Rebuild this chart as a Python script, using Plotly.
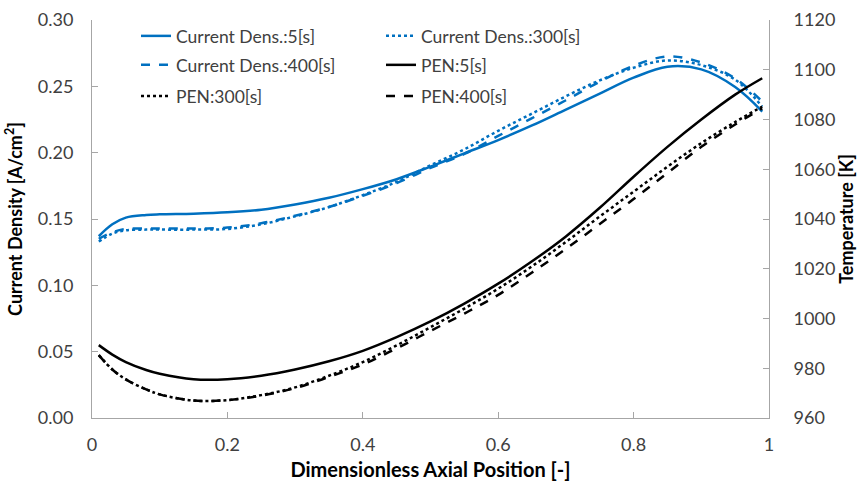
import plotly.graph_objects as go

x = [0.01, 0.03, 0.05, 0.08, 0.1, 0.15, 0.2, 0.25, 0.3, 0.35, 0.4, 0.45, 0.5,
     0.55, 0.6, 0.65, 0.7, 0.75, 0.8, 0.85, 0.9, 0.95, 0.99]

cd_5 = [0.137, 0.146, 0.151, 0.153, 0.1535, 0.154, 0.155, 0.157, 0.161, 0.166, 0.1725, 0.180, 0.1895,
        0.1995, 0.2095, 0.2205, 0.2325, 0.2445, 0.2565, 0.2648, 0.2628, 0.2495, 0.231]
cd_300 = [0.133, 0.139, 0.1415, 0.142, 0.142, 0.142, 0.1425, 0.146, 0.152, 0.159, 0.168, 0.178, 0.1905,
          0.2025, 0.2165, 0.2295, 0.2425, 0.2545, 0.264, 0.2695, 0.266, 0.255, 0.2347]
cd_400 = [0.135, 0.140, 0.1425, 0.1428, 0.1428, 0.1428, 0.1435, 0.1468, 0.1525, 0.159, 0.1675, 0.177, 0.1885,
          0.199, 0.2126, 0.226, 0.2395, 0.2535, 0.2655, 0.2725, 0.268, 0.256, 0.2385]

t_5 = [989.3, 985.5, 982.5, 979.3, 977.8, 975.6, 975.6, 977.0, 979.5, 982.8, 987.0, 992.5, 998.8,
       1006.0, 1014.0, 1023.0, 1033.0, 1044.5, 1057.0, 1069.0, 1080.0, 1090.0, 1096.6]
t_300 = [985.3, 979.5, 975.5, 971.5, 969.5, 967.0, 967.2, 969.2, 972.3, 977.0, 982.5, 989.2, 996.5,
         1004.0, 1012.0, 1021.0, 1030.8, 1041.0, 1051.0, 1061.0, 1070.5, 1079.0, 1085.2]
t_400 = [985.3, 979.5, 975.5, 971.5, 969.5, 967.0, 967.2, 969.0, 972.0, 976.5, 981.5, 988.0, 995.0,
         1002.0, 1009.5, 1018.5, 1028.0, 1038.0, 1048.0, 1058.5, 1069.0, 1078.0, 1084.5]

names = ["Current Dens.:5[s]", "Current Dens.:300[s]", "Current Dens.:400[s]",
         "PEN:5[s]", "PEN:300[s]", "PEN:400[s]"]

BLUE = "#0070C0"
BLACK = "#000000"
FONT = "Lato"

fig = go.Figure()
series = [
    (cd_5, names[0], BLUE, "solid", "y", "legend"),
    (cd_300, names[1], BLUE, "dot", "y", "legend"),
    (cd_400, names[2], BLUE, "dash", "y", "legend2"),
    (t_5, names[3], BLACK, "solid", "y2", "legend2"),
    (t_300, names[4], BLACK, "dot", "y2", "legend3"),
    (t_400, names[5], BLACK, "dash", "y2", "legend3"),
]
for ys, nm, col, dash, ax, lg in series:
    fig.add_trace(go.Scatter(
        x=x, y=ys, name=nm, yaxis=ax, mode="lines", legend=lg,
        line=dict(color=col, width=2.5, dash=dash, shape="spline", smoothing=1.0),
    ))

axis_gray = "#A6A6A6"
tick_font = dict(family=FONT, size=18, color="#404040")
title_font = dict(family=FONT, size=18, color="#000000")
xtitle_font = dict(family=FONT, size=20, color="#000000")
leg_font = dict(family=FONT, size=17.5, color="#404040")


def leg(yc):
    return dict(
        orientation="h", x=0.065, y=yc, xanchor="left", yanchor="middle",
        entrywidth=200, entrywidthmode="pixels", font=leg_font,
        bgcolor="rgba(0,0,0,0)", borderwidth=0,
    )


fig.update_layout(
    width=857, height=484,
    margin=dict(l=92, r=88, t=20, b=66, autoexpand=False),
    paper_bgcolor="white", plot_bgcolor="white",
    font=dict(family=FONT, size=18, color="#404040"),
    showlegend=True,
    legend=leg(0.9598),
    legend2=leg(0.887),
    legend3=leg(0.809),
    xaxis=dict(
        range=[0, 1], tickvals=[0, 0.2, 0.4, 0.6, 0.8, 1], ticktext=["0", "0.2", "0.4", "0.6", "0.8", "1"],
        showgrid=False, zeroline=False, showline=True, linecolor=axis_gray, linewidth=1,
        ticks="inside", ticklen=6, tickcolor=axis_gray, tickfont=tick_font,
        ticklabelstandoff=10, automargin=False,
        title=dict(text="<b>Dimensionless Axial Position [-]</b>", font=xtitle_font, standoff=9),
    ),
    yaxis=dict(
        range=[0, 0.30], tickvals=[0, 0.05, 0.10, 0.15, 0.20, 0.25, 0.30], tickformat=".2f",
        showgrid=False, zeroline=False, showline=True, linecolor=axis_gray, linewidth=1,
        ticks="inside", ticklen=6, tickcolor=axis_gray, tickfont=tick_font,
        ticklabelstandoff=14, automargin=False,
        title=dict(text="<b>Current Density [A/cm<sup>2</sup>]</b>", font=title_font, standoff=10),
    ),
    yaxis2=dict(
        range=[960, 1120], tickvals=[960, 980, 1000, 1020, 1040, 1060, 1080, 1100, 1120],
        overlaying="y", side="right", anchor="x",
        showgrid=False, zeroline=False, showline=True, linecolor=axis_gray, linewidth=1,
        ticks="inside", ticklen=6, tickcolor=axis_gray, tickfont=tick_font,
        ticklabelstandoff=20, automargin=False,
        title=dict(text="<b>Temperature [K]</b>", font=title_font, standoff=8),
    ),
)

fig.write_html("out.html")
